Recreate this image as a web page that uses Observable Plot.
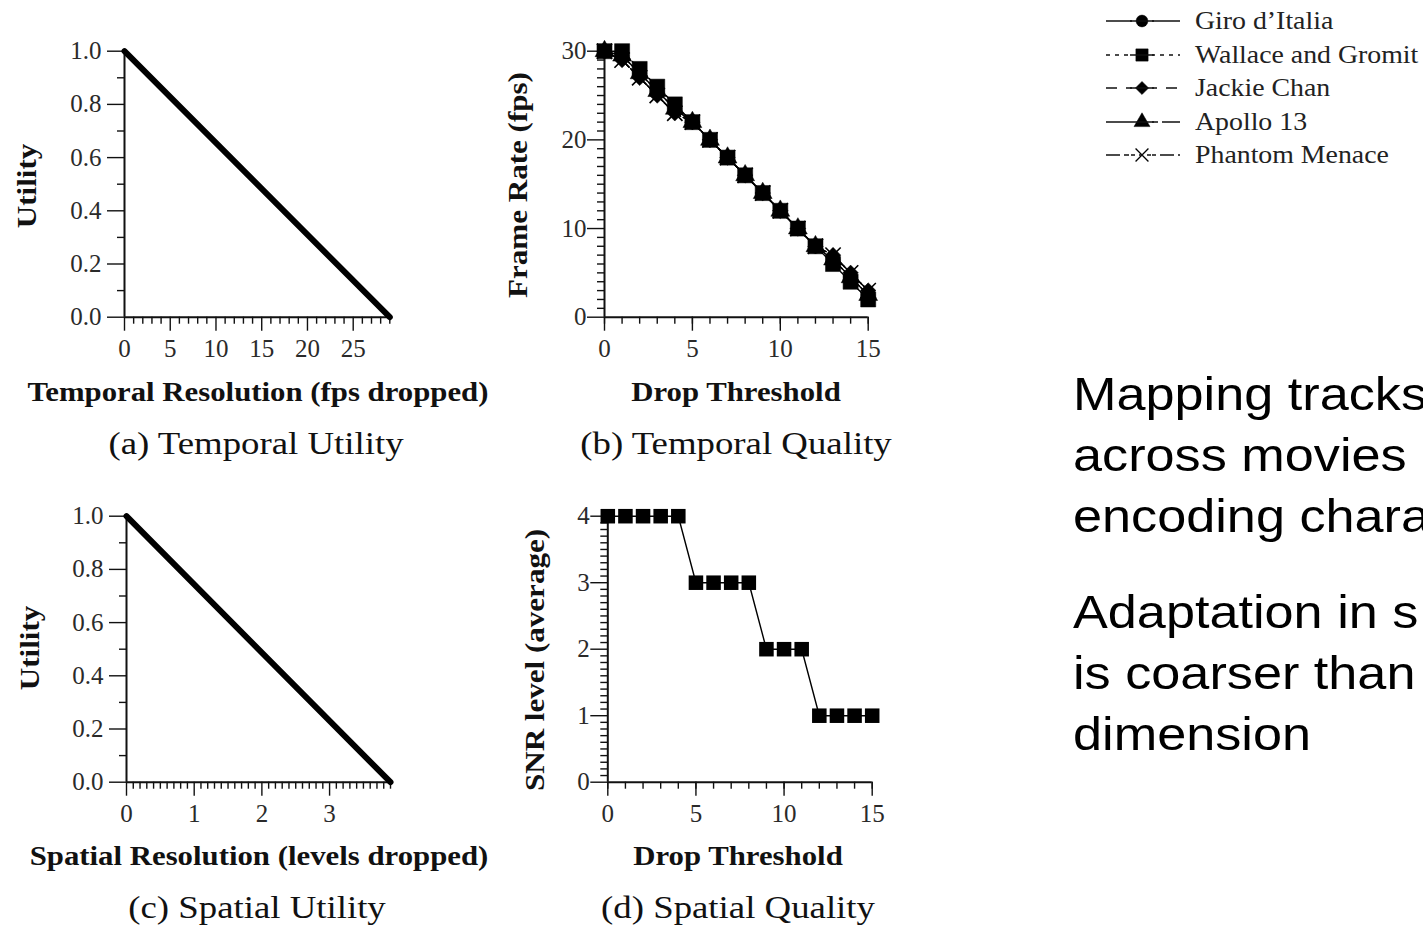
<!DOCTYPE html>
<html>
<head>
<meta charset="utf-8">
<script src="https://cdn.jsdelivr.net/npm/d3@7"></script>
<script src="https://cdn.jsdelivr.net/npm/@observablehq/plot@0.6"></script>
<style>
  html, body { margin: 0; padding: 0; background: #fff; overflow: hidden; }
  #root { position: relative; width: 1423px; height: 926px; overflow: hidden; background: #fff; }
  .panel { position: absolute; }
  .panel svg { overflow: visible; }
  .lab { position: absolute; font-family: "Liberation Serif", "Times New Roman", serif; color: #111;
         white-space: nowrap; line-height: 1; }
  .bold { font-weight: bold; font-size: 27px; transform: translate(-50%, -50%) scaleX(1.14); }
  .cap { font-size: 32px; transform: translate(-50%, -50%) scaleX(1.15); }
  .bold.rot { transform: translate(-50%, -50%) rotate(-90deg) scaleX(1.15); }
  .slide { position: absolute; left: 1073px; font-family: "Liberation Sans", Arial, sans-serif;
           font-size: 46px; line-height: 61px; color: #000; white-space: nowrap;
           transform: scaleX(1.135); transform-origin: 0 0; }
  #legend { position: absolute; left: 1100px; top: 4px; }
  .lrow { position: absolute; left: 0; height: 34px; width: 320px; }
  .lrow svg { position: absolute; left: 0; top: 0; }
  .lrow span { position: absolute; left: 95px; top: 50%; transform: translateY(-50%) scaleX(1.07); transform-origin: 0 50%;
               font-family: "Liberation Serif", "Times New Roman", serif; font-size: 26px; color: #222; white-space: nowrap; }
</style>
</head>
<body>
<div id="root"></div>
<script>
// ---------- data ----------
const movies = ["Giro d’Italia", "Wallace and Gromit", "Jackie Chan", "Apollo 13", "Phantom Menace"];
const thresholds = [0, 1, 2, 3, 4, 5, 6, 7, 8, 9, 10, 11, 12, 13, 14, 15];
const fpsGiro     = [30, 29.5, 27.5, 25.5, 23.5, 22, 20, 18, 16, 14, 12, 10, 8, 6.5, 4.5, 2.5];
const fpsWallace  = [30, 30, 28, 26, 24, 22, 20, 18, 16, 14, 12, 10, 8, 6, 4, 2];
const fpsJackie   = [30, 29, 27, 25, 23, 22, 20, 18, 16, 14, 12, 10, 8, 7, 5, 3];
const fpsApollo   = [30, 29.5, 27.5, 25.5, 23.5, 22, 20, 18, 16, 14, 12, 10, 8, 6.5, 4.5, 2.5];
const fpsPhantom  = [30, 29, 27, 25, 23, 22, 20, 18, 16, 14, 12, 10, 8, 7, 5, 3];
const snrLevel    = [4, 4, 4, 4, 4, 3, 3, 3, 3, 2, 2, 2, 1, 1, 1, 1];
const temporalDropped = [0, 29];
const temporalUtility = [1, 0];
const spatialDropped  = [0, 3.9];
const spatialUtility  = [1, 0];
const utilityTicks = [0, 0.2, 0.4, 0.6, 0.8, 1.0];
const utilityMinor = [0.1, 0.3, 0.5, 0.7, 0.9];
const fpsDroppedTicks = [0, 5, 10, 15, 20, 25];
const fpsDroppedMinor = [1,2,3,4,6,7,8,9,11,12,13,14,16,17,18,19,21,22,23,24,26,27,28,29];
const levelTicks = [0, 1, 2, 3];
const levelMinor = [0.1,0.2,0.3,0.4,0.5,0.6,0.7,0.8,0.9,1.1,1.2,1.3,1.4,1.5,1.6,1.7,1.8,1.9,
                    2.1,2.2,2.3,2.4,2.5,2.6,2.7,2.8,2.9,3.1,3.2,3.3,3.4,3.5,3.6,3.7,3.8,3.9];
const thresholdTicks = [0, 5, 10, 15];
const fpsTicks = [0, 10, 20, 30];
const fpsMinor = [1,2,3,4,5,6,7,8,9,11,12,13,14,15,16,17,18,19,21,22,23,24,25,26,27,28,29];
const snrTicks = [0, 1, 2, 3, 4];
const snrMinor = [0.1,0.2,0.3,0.4,0.5,0.6,0.7,0.8,0.9,1.1,1.2,1.3,1.4,1.5,1.6,1.7,1.8,1.9,
                  2.1,2.2,2.3,2.4,2.5,2.6,2.7,2.8,2.9,3.1,3.2,3.3,3.4,3.5,3.6,3.7,3.8,3.9];
const slideLines1 = ["Mapping tracks", "across movies", "encoding chara"];
const slideLines2 = ["Adaptation in s", "is coarser than", "dimension"];

const fpsSeries = [fpsGiro, fpsWallace, fpsJackie, fpsApollo, fpsPhantom];
const dashes  = ["none", "4,5", "11,9", "24,4", "14,4,5,4"];
const symbols = ["circle", "square", "diamond2", "triangle", "times"];

// ---------- helpers ----------
const root = document.getElementById("root");
const INK = "#111";
const SERIF = '"Liberation Serif", "Times New Roman", serif';

function place(node, left, top) {
  const d = document.createElement("div");
  d.className = "panel";
  d.style.left = left + "px";
  d.style.top = top + "px";
  d.appendChild(node);
  root.appendChild(d);
}
function label(text, x, y, cls) {
  const d = document.createElement("div");
  d.className = "lab " + cls;
  d.textContent = text;
  d.style.left = x + "px";
  d.style.top = y + "px";
  root.appendChild(d);
}

function axesMarks(o) {
  return [
    Plot.axisY({ticks: o.yMinor, tickSize: 7, text: null, label: null, stroke: INK, strokeWidth: 1.4}),
    Plot.axisY({ticks: o.yTicks, tickSize: 17, tickPadding: o.yPad, tickFormat: o.yFmt, label: null,
                stroke: INK, strokeWidth: 1.4, fill: "#2a2a2a", fontSize: 25}),
    Plot.axisX({ticks: o.xMinor, tickSize: 7, text: null, label: null, stroke: INK, strokeWidth: 1.4}),
    Plot.axisX({ticks: o.xTicks, tickSize: 14, tickPadding: 8, tickFormat: d => d, label: null,
                stroke: INK, strokeWidth: 1.4, fill: "#2a2a2a", fontSize: 25}),
    Plot.ruleX([o.x0], {y1: o.y0, y2: o.y1, stroke: INK, strokeWidth: 2}),
    Plot.ruleY([o.y0], {x1: o.x0, x2: o.x1, stroke: INK, strokeWidth: 2})
  ];
}

function frame(W, H, left, top, right, bottom) {
  return {width: W, height: H, marginLeft: left, marginTop: top, marginRight: W - right, marginBottom: H - bottom,
          style: {fontFamily: SERIF, background: "transparent", overflow: "visible"}};
}

// ---------- (a) Temporal Utility ----------
{
  const pts = temporalDropped.map((x, i) => ({x, u: temporalUtility[i]}));
  const p = Plot.plot({
    ...frame(440, 370, 124, 50.7, 389.3, 316.7),
    x: {domain: [0, 29], label: null}, y: {domain: [0, 1], label: null},
    marks: [
      ...axesMarks({yTicks: utilityTicks, yMinor: utilityMinor, yPad: 6, yFmt: d => d.toFixed(1),
                    xTicks: fpsDroppedTicks, xMinor: fpsDroppedMinor, x0: 0, x1: 29, y0: 0, y1: 1}),
      Plot.line(pts, {x: "x", y: "u", stroke: "#000", strokeWidth: 6})
    ]
  });
  place(p, 0, 0);
}

// ---------- (b) Temporal Quality ----------
{
  const marks = [];
  const data = movies.map((m, i) => thresholds.map((t, j) => ({movie: m, t, fps: fpsSeries[i][j]})));
  data.forEach((d, i) => {
    marks.push(Plot.line(d, {x: "t", y: "fps", stroke: "#000", strokeWidth: 1.4,
      strokeDasharray: i === 0 ? null : "5,3"}));
  });
  const order = [0, 2, 3, 4, 1];
  order.forEach(i => {
    const isTimes = symbols[i] === "times";
    marks.push(Plot.dot(data[i], {x: "t", y: "fps", symbol: () => symbols[i],
      r: i === 1 ? 8.5 : 7, fill: isTimes ? "none" : "#000", stroke: "#000", strokeWidth: isTimes ? 1.6 : 0.5}));
  });
  const p = Plot.plot({
    ...frame(440, 370, 124, 50.7, 387.7, 316.7),
    x: {domain: [0, 15], label: null}, y: {domain: [0, 30], label: null},
    symbol: {type: "identity"},
    marks: [
      ...axesMarks({yTicks: fpsTicks, yMinor: fpsMinor, yPad: 1, yFmt: d => d,
                    xTicks: thresholdTicks, xMinor: thresholds, x0: 0, x1: 15, y0: 0, y1: 30}),
      ...marks
    ]
  });
  place(p, 480, 0);
}

// ---------- (c) Spatial Utility ----------
{
  const pts = spatialDropped.map((x, i) => ({x, u: spatialUtility[i]}));
  const p = Plot.plot({
    ...frame(440, 370, 126, 50.7, 390, 316.7),
    x: {domain: [0, 3.9], label: null}, y: {domain: [0, 1], label: null},
    marks: [
      ...axesMarks({yTicks: utilityTicks, yMinor: utilityMinor, yPad: 6, yFmt: d => d.toFixed(1),
                    xTicks: levelTicks, xMinor: levelMinor, x0: 0, x1: 3.9, y0: 0, y1: 1}),
      Plot.line(pts, {x: "x", y: "u", stroke: "#000", strokeWidth: 6})
    ]
  });
  place(p, 0, 465);
}

// ---------- (d) Spatial Quality ----------
{
  const d = thresholds.map((t, j) => ({t, snr: snrLevel[j]}));
  const p = Plot.plot({
    ...frame(440, 370, 127.3, 50.7, 391.7, 316.7),
    x: {domain: [0, 15], label: null}, y: {domain: [0, 4], label: null},
    marks: [
      ...axesMarks({yTicks: snrTicks, yMinor: snrMinor, yPad: 1, yFmt: d => d,
                    xTicks: thresholdTicks, xMinor: thresholds, x0: 0, x1: 15, y0: 0, y1: 4}),
      Plot.line(d, {x: "t", y: "snr", stroke: "#000", strokeWidth: 1.4}),
      Plot.dot(d, {x: "t", y: "snr", symbol: "square", r: 8.2, fill: "#000"})
    ]
  });
  place(p, 480, 465);
}

// ---------- axis titles & captions ----------
label("Utility", 27, 186, "bold rot");
label("Frame Rate (fps)", 518, 185, "bold rot");
label("Temporal Resolution (fps dropped)", 258, 392, "bold");
label("Drop Threshold", 736, 392, "bold");
label("(a) Temporal Utility", 256, 443, "cap");
label("(b) Temporal Quality", 736, 443, "cap");
label("Utility", 30, 648, "bold rot");
label("SNR level (average)", 535, 660, "bold rot");
label("Spatial Resolution (levels dropped)", 259, 856, "bold");
label("Drop Threshold", 738, 856, "bold");
label("(c) Spatial Utility", 257, 907, "cap");
label("(d) Spatial Quality", 738, 907, "cap");

// ---------- legend ----------
{
  const lg = document.createElement("div");
  lg.id = "legend";
  root.appendChild(lg);
  const rowY = [0, 33.5, 67, 100.5, 134];
  const symMap = {circle: d3.symbolCircle, square: d3.symbolSquare, diamond2: d3.symbolDiamond2,
                  triangle: d3.symbolTriangle, times: d3.symbolTimes};
  movies.forEach((m, i) => {
    const row = document.createElement("div");
    row.className = "lrow";
    row.style.top = rowY[i] + "px";
    const svg = d3.create("svg").attr("width", 85).attr("height", 34);
    svg.append("line").attr("x1", 6).attr("x2", 80).attr("y1", 17).attr("y2", 17)
      .attr("stroke", "#111").attr("stroke-width", 1.5)
      .attr("stroke-dasharray", dashes[i] === "none" ? null : dashes[i]);
    const isTimes = symbols[i] === "times";
    svg.append("rect").attr("x", 32).attr("y", 8).attr("width", 20).attr("height", 18).attr("fill", "#fff");
    svg.append("path").attr("transform", "translate(42,17)")
      .attr("d", d3.symbol(symMap[symbols[i]], i === 1 ? 150 : 110)())
      .attr("fill", isTimes ? "none" : "#000").attr("stroke", "#000").attr("stroke-width", isTimes ? 1.3 : 0.5);
    if (!isTimes) {
      svg.append("line").attr("x1", 30).attr("x2", 54).attr("y1", 17).attr("y2", 17)
        .attr("stroke", "#111").attr("stroke-width", 1.5);
    } else {
      svg.append("line").attr("x1", 31).attr("x2", 53).attr("y1", 17).attr("y2", 17)
        .attr("stroke", "#111").attr("stroke-width", 1.3).attr("stroke-dasharray", "4,4");
    }
    row.appendChild(svg.node());
    const s = document.createElement("span");
    s.textContent = m;
    row.appendChild(s);
    lg.appendChild(row);
  });
}

// ---------- slide text ----------
{
  const a = document.createElement("div");
  a.className = "slide";
  a.style.top = "364px";
  a.innerHTML = slideLines1.join("<br>");
  root.appendChild(a);
  const b = document.createElement("div");
  b.className = "slide";
  b.style.top = "582px";
  b.innerHTML = slideLines2.join("<br>");
  root.appendChild(b);
}
</script>
</body>
</html>
